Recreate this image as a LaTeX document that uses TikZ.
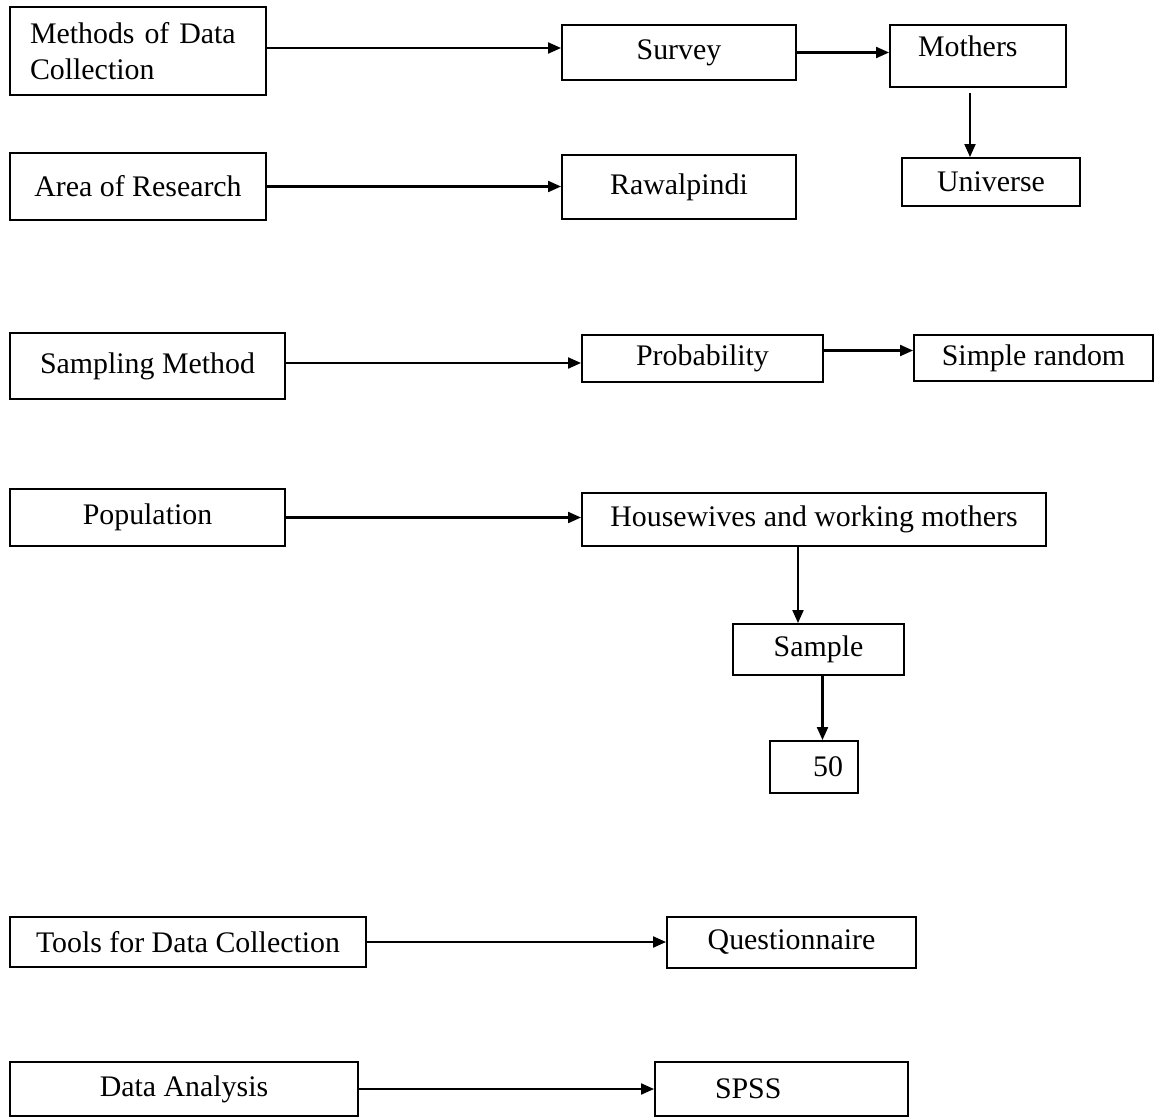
\documentclass[tikz,border=0pt]{standalone}
\usepackage{fontspec}
\setmainfont{Liberation Serif}
\usetikzlibrary{arrows.meta,positioning}

\begin{document}
\begin{tikzpicture}[x=0.02cm,y=-0.02cm,
    font=\fontsize{17}{20.5}\selectfont,
    stagebox/.style={draw,line width=1.1pt,inner sep=0pt,align=center},
    boxsize/.style 2 args={minimum width=#1*0.02cm,minimum height=#2*0.02cm},
    flow/.style={line width=1.2pt,-{Triangle[length=0.26cm,width=0.22cm]}}]
  \useasboundingbox (0,0) rectangle (1157,1119);

  % left column
  \node[stagebox,boxsize={256}{88},inner xsep=0.4cm,text width=4.32cm,align=left]
    (methods) at (138,51) {Methods of Data\\Collection};
  \node[stagebox,boxsize={256}{67}] (area) at (138,186.5) {Area of Research};
  \node[stagebox,boxsize={275}{66}] (sampling) at (147.5,366) {Sampling Method};
  \node[stagebox,boxsize={275}{57}] (population) at (147.5,517.5) {Population};
  \node[stagebox,boxsize={356}{50}] (tools) at (188,942) {Tools for Data Collection};
  \node[stagebox,boxsize={348}{54}] (analysis) at (184,1089) {Data Analysis};

  % right side
  \node[stagebox,boxsize={234}{55}] (survey) at (679,52.5) {Survey};
  \node[stagebox,boxsize={176}{62},inner xsep=0.56cm,text width=2.4cm,align=left,
        text depth=0.4cm] (mothers) at (978,56) {Mothers};
  \node[stagebox,boxsize={178}{48}] (universe) at (991,182) {Universe};
  \node[stagebox,boxsize={234}{64}] (rawalpindi) at (679,187) {Rawalpindi};
  \node[stagebox,boxsize={241}{47}] (probability) at (702.5,358.5) {Probability};
  \node[stagebox,boxsize={239}{46}] (simple) at (1033.5,358) {Simple random};
  \node[stagebox,boxsize={464}{53}] (housewives) at (814,519.5) {Housewives and working mothers};
  \node[stagebox,boxsize={171}{51}] (sample) at (818.5,649.5) {Sample};
  \node[stagebox,boxsize={88}{52},inner xsep=0.3cm,text width=1.16cm,align=right]
    (fifty) at (814,767) {50};
  \node[stagebox,boxsize={249}{51}] (questionnaire) at (791.5,942.5) {Questionnaire};
  \node[stagebox,boxsize={253}{54},inner xsep=1.2cm,text width=2.66cm,align=left]
    (spss) at (781.5,1089) {SPSS};

  % connectors
  \draw[flow] ([yshift=0.06cm]methods.east) -- ([yshift=0.06cm]methods.east -| survey.west);
  \draw[flow] (survey.east) -- (survey.east -| mothers.west);
  \draw[flow] ([xshift=-0.16cm,yshift=-0.1cm]mothers.south) -- ([xshift=-0.16cm]mothers.south |- universe.north);
  \draw[flow] (area.east) -- (area.east -| rawalpindi.west);
  \draw[flow] ([yshift=0.06cm]sampling.east) -- ([yshift=0.06cm]sampling.east -| probability.west);
  \draw[flow] ([yshift=0.16cm]probability.east) -- ([yshift=0.16cm]probability.east -| simple.west);
  \draw[flow] (population.east) -- (population.east -| housewives.west);
  \draw[flow] ([xshift=-0.32cm]housewives.south) -- ([xshift=-0.32cm]housewives.south |- sample.north);
  \draw[flow] ([xshift=0.08cm]sample.south) -- ([xshift=0.08cm]sample.south |- fifty.north);
  \draw[flow] (tools.east) -- (tools.east -| questionnaire.west);
  \draw[flow] (analysis.east) -- (analysis.east -| spss.west);
\end{tikzpicture}
\end{document}
